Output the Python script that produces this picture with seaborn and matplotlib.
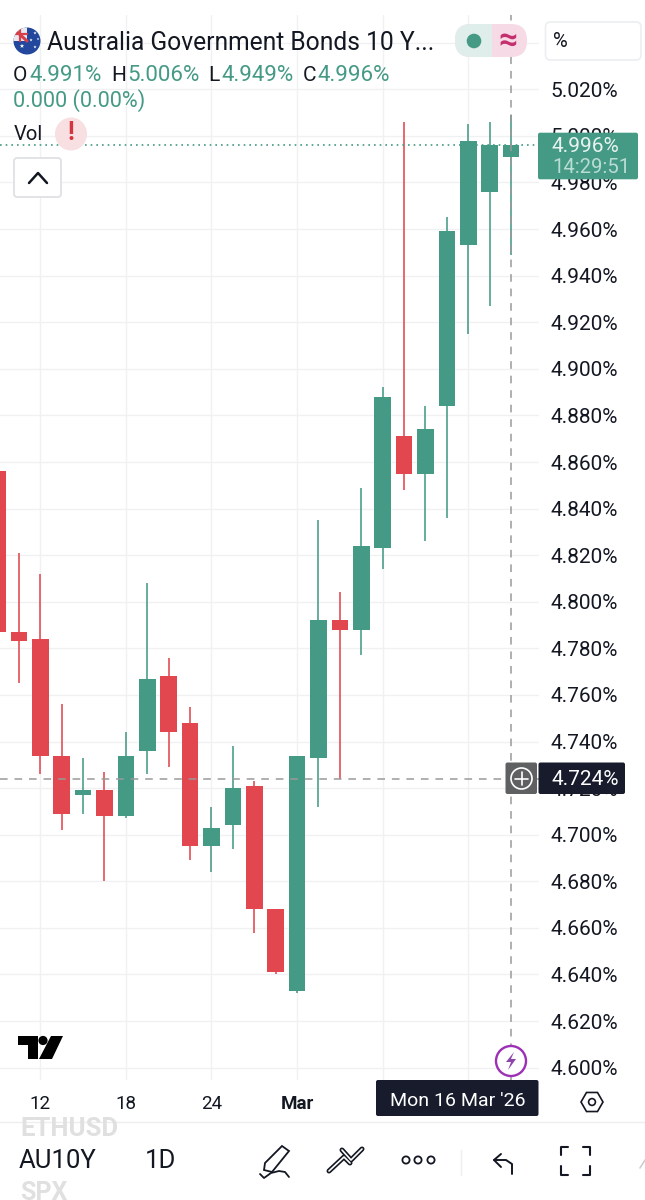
import matplotlib
matplotlib.use("Agg")
import matplotlib.pyplot as plt
from matplotlib.patches import Circle, Ellipse, FancyBboxPatch, Polygon, Rectangle, RegularPolygon
import numpy as np
import pandas as pd
import seaborn as sns

# daily candles, first one is cut off by the left edge
idx = list(range(25))
opens = [4.856, 4.787, 4.784, 4.734, 4.717, 4.719, 4.708, 4.736, 4.768, 4.748, 4.695,
         4.704, 4.721, 4.668, 4.633, 4.733, 4.792, 4.788, 4.823, 4.871, 4.855, 4.884,
         4.953, 4.976, 4.991]
closes = [4.787, 4.783, 4.734, 4.709, 4.719, 4.708, 4.734, 4.767, 4.744, 4.695, 4.703,
          4.720, 4.668, 4.641, 4.734, 4.792, 4.788, 4.824, 4.888, 4.855, 4.874, 4.959,
          4.998, 4.996, 4.996]
highs = [4.860, 4.821, 4.812, 4.756, 4.733, 4.727, 4.744, 4.808, 4.776, 4.755, 4.712,
         4.738, 4.723, 4.668, 4.734, 4.835, 4.804, 4.849, 4.892, 5.006, 4.884, 4.965,
         5.005, 5.006, 5.009]
lows = [4.787, 4.765, 4.726, 4.702, 4.709, 4.680, 4.707, 4.726, 4.729, 4.689, 4.684,
        4.694, 4.658, 4.640, 4.632, 4.712, 4.724, 4.777, 4.814, 4.848, 4.826, 4.836,
        4.915, 4.927, 4.949]

y_ticks = [4.60, 4.62, 4.64, 4.66, 4.68, 4.70, 4.72, 4.74, 4.76, 4.78, 4.80, 4.82,
           4.84, 4.86, 4.88, 4.90, 4.92, 4.94, 4.96, 4.98, 5.00, 5.02, 5.04]
x_ticks = [2, 6, 10, 14, 18, 22]
x_labels = ["12", "18", "24", "Mar", "", ""]
last_close = 4.996
cross_price = 4.724
cross_idx = 24

GREEN = "#459a85"
RED = "#e2474f"
INK = "#131722"
GRID = "#f0f1f3"

sns.set_theme(style="white")
plt.rcParams['font.family'] = ['Roboto', 'DejaVu Sans']

fig = plt.figure(figsize=(6.45, 12), dpi=100)
ax = fig.add_axes([0, (1200 - 1080) / 1200, 539 / 645, (1080 - 15) / 1200])

df = pd.DataFrame({"idx": idx, "open": opens, "close": closes, "high": highs, "low": lows})
df["side"] = ["up" if c >= o else "down" for o, c in zip(opens, closes)]
palette = {"up": GREEN, "down": RED}

wicks = df.melt(id_vars=["idx", "side"], value_vars=["high", "low"], value_name="price")
sns.lineplot(data=wicks, x="idx", y="price", hue="side", units="idx", estimator=None,
             palette=palette, linewidth=1.15, legend=False, ax=ax, zorder=3,
             solid_capstyle="butt")

# bars, not thick lines: agg drops a line whose centre is off the canvas
ax.bar(df["idx"], (df["close"] - df["open"]).abs(), bottom=df[["open", "close"]].min(axis=1),
       width=0.78, color=df["side"].map(palette), linewidth=0, zorder=4)

ax.set_xlim(0.117, 25.304)
ax.set_ylim(4.5947, 5.0519)
ax.set_xlabel("")
ax.set_ylabel("")
ax.yaxis.tick_right()
ax.set_yticks(y_ticks)
ax.set_yticklabels([f"{v:.3f}%" if v < 5.03 else "" for v in y_ticks])
ax.set_xticks(x_ticks)
ax.set_xticklabels(x_labels)
ax.get_xticklabels()[3].set_fontweight("bold")
ax.tick_params(axis="y", length=0, pad=8.5, labelsize=15, labelcolor=INK)
ax.tick_params(axis="x", length=0, pad=11, labelsize=13.5, labelcolor=INK)
ax.grid(True, color=GRID, linewidth=1.0)
ax.set_axisbelow(True)
for s in ax.spines.values():
    s.set_visible(False)
ax.patch.set_alpha(0)

# last price and crosshair
ax.axhline(last_close, color=GREEN, linewidth=1.2, linestyle=(0, (1, 2.4)), zorder=5)
ax.axhline(cross_price, color="#9a9a9a", linewidth=1.1, linestyle=(0, (5, 4.5)), zorder=6)
ax.axvline(cross_idx, color="#9a9a9a", linewidth=1.1, linestyle=(0, (5, 4.5)), zorder=6)

# everything around the chart, in screen pixels
ui = fig.add_axes([0, 0, 1, 1], zorder=10)
ui.set_xlim(0, 645)
ui.set_ylim(1200, 0)
ui.axis("off")


def rbox(x0, y0, x1, y1, fc, ec="none", r=4, lw=1.0, z=2):
    p = FancyBboxPatch((x0, y0), x1 - x0, y1 - y0, boxstyle=f"round,pad=0,rounding_size={r}",
                       fc=fc, ec=ec, lw=lw, zorder=z)
    ui.add_patch(p)
    return p


def txt(x, y, s, size, color=INK, ha="left", **kw):
    return ui.text(x, y + 1.5, s, fontsize=size, color=color, ha=ha, va="center", zorder=5, **kw)


# flag
flag = Circle((27, 41), 13.5, fc="#23479c", ec="none", zorder=3)
ui.add_patch(flag)
corner = Rectangle((13, 27), 14, 14, fc="#e8e8ee", ec="none", zorder=3)
ui.add_patch(corner)
corner.set_clip_path(flag)
stripe_a, = ui.plot([15, 27], [30, 41], color="#d5404b", lw=2.2, zorder=4)
stripe_b, = ui.plot([20, 20], [27, 41], color="#d5404b", lw=1.6, zorder=4)
stripe_c, = ui.plot([13, 27], [34, 34], color="#d5404b", lw=1.6, zorder=4)
for ln in (stripe_a, stripe_b, stripe_c):
    ln.set_clip_path(flag)
ui.scatter([35, 35, 31, 38, 22], [33, 47, 40, 39, 46], s=[6, 6, 6, 4, 12], c="white",
           marker="*", linewidths=0, zorder=4)

txt(47, 41, "Australia Government Bonds 10 Y...", 17.75)

# status pill
pill = rbox(455, 24, 527, 57, "#f6dae5", r=16)
left_half = Rectangle((455, 24), 37, 33, fc="#e0eeeb", ec="none", zorder=3)
ui.add_patch(left_half)
left_half.set_clip_path(pill)
ui.add_patch(Circle((474, 41), 7.3, fc=GREEN, ec="none", zorder=4))
txt(508, 39, "≈", 24, color="#c4306d", ha="center", fontweight="bold")

# percent button
rbox(545.5, 22, 641, 60, "white", ec="#eceef0", r=5, lw=1.2)
txt(553, 40, "%", 14.5, ha="left")

# ohlc line
for x, s, c in [(13, "O", INK), (29, "4.991%", GREEN), (111, "H", INK), (127, "5.006%", GREEN),
                (208, "L", INK), (221, "4.949%", GREEN), (303, "C", INK), (317, "4.996%", GREEN)]:
    txt(x, 74, s, 16 if c == GREEN else 15, color=c)
txt(13, 99, "0.000 (0.00%)", 15.6, color=GREEN)

txt(14, 133, "Vol", 14.5)
ui.add_patch(Ellipse((71, 134), 32, 33, fc="#f8dfe1", ec="none", zorder=3))
txt(71, 132, "!", 18, color="#d6343f", ha="center", fontweight="bold")

rbox(14, 158, 61, 197, "white", ec="#dfe1e4", r=3, lw=1.3)
ui.plot([29, 38, 47], [183, 173, 183], color=INK, lw=1.8, zorder=4)

# last price tag
rbox(538, 132.7, 638, 179.3, GREEN, r=2, z=3)
txt(552, 145, "4.996%", 15, color="#e8f3f0")
txt(552, 166, "14:29:51", 14.6, color="#b9dcd3")

# crosshair tags
rbox(505.5, 762.5, 537, 794, "#5f6062", r=2, z=3)
ui.add_patch(Circle((521.5, 778.5), 10.5, fc="none", ec="white", lw=1.2, zorder=4))
ui.plot([515, 528], [778.5, 778.5], color="white", lw=1.2, zorder=4)
ui.plot([521.5, 521.5], [772, 785], color="white", lw=1.2, zorder=4)
rbox(538.5, 762.5, 625, 794, "#181b2c", r=2, z=3)
txt(551, 778, "4.724%", 15, color="white")

rbox(376, 1080, 538.5, 1116, "#181b2c", r=2, z=3)
txt(457.5, 1100, "Mon 16 Mar '26", 14, color="white", ha="center")

# logo
ui.add_patch(Polygon([(18, 1036), (38, 1036), (38, 1059), (28, 1059), (28, 1045), (18, 1045)],
                     fc="black", ec="none", zorder=3))
ui.add_patch(Circle((43, 1040.5), 4.6, fc="black", ec="none", zorder=3))
ui.add_patch(Polygon([(51, 1036), (63, 1036), (52, 1059), (39, 1059)], fc="black", ec="none", zorder=3))

# lightning badge
ui.add_patch(Circle((511, 1061), 15, fc="white", ec="#9c2fb5", lw=1.7, zorder=3))
ui.add_patch(Polygon([(514, 1052), (506, 1062), (511, 1062), (508, 1070), (516, 1059), (511, 1059)],
                     fc="#8e44ad", ec="none", zorder=4))

# settings hexagon
ui.add_patch(RegularPolygon((592, 1102), 6, radius=11, orientation=np.pi / 6, fc="none", ec=INK, lw=1.2, zorder=3))
ui.add_patch(Circle((592, 1102), 3.4, fc="none", ec=INK, lw=1.2, zorder=3))

# bottom bar
bar = Rectangle((0, 1122), 645, 78, fc="white", ec="none", zorder=1)
ui.add_patch(bar)
ui.plot([0, 645], [1121.5, 1121.5], color="#eeeeee", lw=1.0, zorder=2)
eth = txt(20, 1128, "ETHUSD", 18.5, color="#e0e0e0", fontweight="bold")
eth.set_clip_path(bar)
txt(20, 1192, "SPX", 18, color="#e0e0e0", fontweight="bold")
txt(19, 1159, "AU10Y", 18.5)
txt(145, 1159, "1D", 18.5)

# pencil
ui.add_patch(Polygon([(282, 1146), (289, 1151), (272, 1172), (264, 1170), (265, 1163)],
                     fc="none", ec=INK, lw=1.3, zorder=3))
ui.plot([260, 264, 271, 279, 285, 289], [1174, 1178, 1173, 1171, 1172, 1177], color=INK, lw=1.3, zorder=3)
# chevrons
ui.plot([329, 344, 350], [1171, 1157, 1163], color=INK, lw=3.6, zorder=3, solid_capstyle="round")
ui.plot([329, 344, 350], [1171, 1157, 1163], color="white", lw=1.2, zorder=4, solid_capstyle="round")
ui.plot([342, 351, 362], [1150, 1160, 1149], color=INK, lw=3.6, zorder=3, solid_capstyle="round")
ui.plot([342, 351, 362], [1150, 1160, 1149], color="white", lw=1.2, zorder=4, solid_capstyle="round")
# dots
for cx in (406, 418, 431):
    ui.add_patch(Circle((cx, 1160), 3.6, fc="white", ec=INK, lw=1.3, zorder=3))
ui.plot([461, 461], [1150, 1175], color="#eeeeee", lw=1.0, zorder=2)
# undo
ui.plot([501, 494, 501], [1154, 1160, 1167], color=INK, lw=1.4, zorder=3)
ui.plot([494, 506, 512, 512], [1160, 1160, 1164, 1174], color=INK, lw=1.4, zorder=3)
# fullscreen corners
for xs, ys in [([561, 561, 568], [1155, 1147, 1147]), ([583, 590, 590], [1147, 1147, 1155]),
               ([561, 561, 568], [1166, 1175, 1175]), ([583, 590, 590], [1175, 1175, 1166])]:
    ui.plot(xs, ys, color=INK, lw=1.5, zorder=3)
ui.plot([640, 645], [1168, 1160], color="#cfcfcf", lw=1.2, zorder=3)

fig.savefig("out.png", dpi=100, facecolor="white")
